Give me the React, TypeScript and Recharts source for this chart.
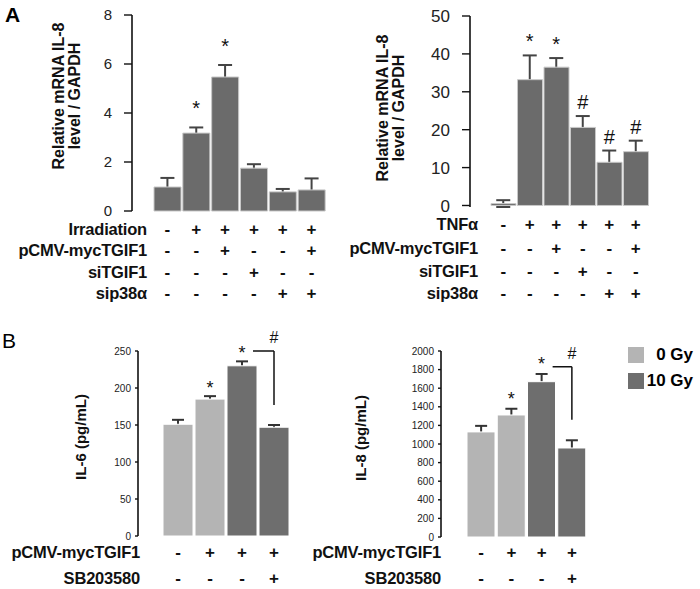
import React from "react";
import {
  ComposedChart,
  Bar,
  Line,
  XAxis,
  YAxis,
  ErrorBar,
  LabelList,
  ReferenceLine,
  ReferenceDot,
  Cell,
} from "recharts";

const FONT = '"Liberation Sans", Arial, Helvetica, sans-serif';

// ---- A (left): IL-8 mRNA after irradiation ----
const irrGroups = ["i1", "i2", "i3", "i4", "i5", "i6"];
const irrMean = [0.98, 3.18, 5.47, 1.75, 0.78, 0.86];
const irrSem = [0.37, 0.23, 0.49, 0.16, 0.12, 0.47];
const irrSig = ["", "*", "*", "", "", ""];
const irrTicks = [0, 2, 4, 6, 8];
const irrRowNames = ["Irradiation", "pCMV-mycTGIF1", "siTGIF1", "sip38α"];
const irrRows = [
  ["-", "+", "+", "+", "+", "+"],
  ["-", "-", "+", "-", "-", "+"],
  ["-", "-", "-", "+", "-", "-"],
  ["-", "-", "-", "-", "+", "+"],
];

// ---- A (right): IL-8 mRNA after TNFα ----
const tnfGroups = ["t1", "t2", "t3", "t4", "t5", "t6"];
const tnfMean = [0.5, 33.2, 36.5, 20.6, 11.4, 14.2];
const tnfSem = [0.9, 6.4, 2.4, 3.0, 3.1, 2.9];
const tnfSig = ["", "*", "*", "#", "#", "#"];
const tnfTicks = [0, 10, 20, 30, 40, 50];
const tnfRowNames = ["TNFα", "pCMV-mycTGIF1", "siTGIF1", "sip38α"];
const tnfRows = [
  ["-", "+", "+", "+", "+", "+"],
  ["-", "-", "+", "-", "-", "+"],
  ["-", "-", "-", "+", "-", "-"],
  ["-", "-", "-", "-", "+", "+"],
];

// ---- B: secreted cytokines ----
const bGroups = ["b1", "b2", "b3", "b4"];
const bDose = ["0 Gy", "0 Gy", "10 Gy", "10 Gy"];
const bRowNames = ["pCMV-mycTGIF1", "SB203580"];
const bRows = [
  ["-", "+", "+", "+"],
  ["-", "-", "-", "+"],
];
const il6Mean = [151, 185, 230, 147];
const il6Sem = [6, 4, 6, 3];
const il6Sig = ["", "*", "*", ""];
const il6Ticks = [0, 50, 100, 150, 200, 250];
const il6Bracket = [250, 177];
const il8Mean = [1130, 1312, 1670, 957];
const il8Sem = [65, 67, 83, 83];
const il8Sig = ["", "*", "*", ""];
const il8Ticks = [0, 200, 400, 600, 800, 1000, 1200, 1400, 1600, 1800, 2000];
const il8Bracket = [1830, 1260];
const legendItems = ["0 Gy", "10 Gy"];

const doseFill: Record<string, string> = { "0 Gy": "#b4b4b4", "10 Gy": "#6e6e6e" };
const barFillA = "#6b6b6b";

const RowTick = (props: any) => {
  const { x = 0, y = 0, index = 0, rows, names, offsets, labelRight } = props;
  return (
    <g fontFamily={FONT} fontWeight={700} fill="#111">
      {rows.map((row: string[], r: number) => (
        <text key={r} x={x} y={y + offsets[r]} dy="0.35em" textAnchor="middle" fontSize={17}>
          {row[index]}
        </text>
      ))}
      {index === 0 &&
        names.map((n: string, r: number) => (
          <text
            key={n}
            x={labelRight}
            y={y + offsets[r]}
            dy="0.35em"
            textAnchor="end"
            fontSize={16.5}
            letterSpacing={-0.2}
          >
            {n}
          </text>
        ))}
    </g>
  );
};

const AxisTitle = ({ lines, cx, cy, gap, size }: any) => (
  <text
    transform={`translate(${cx},${cy}) rotate(-90)`}
    textAnchor="middle"
    dominantBaseline="central"
    fontFamily={FONT}
    fontWeight={700}
    fontSize={size}
    fill="#111"
  >
    {lines.map((l: string, i: number) => (
      <tspan key={i} x={0} dy={i === 0 ? (-(lines.length - 1) * gap) / 2 : gap}>
        {l}
      </tspan>
    ))}
  </text>
);

const Panel = (p: any) => {
  const data = p.groups.map((g: string, i: number) => ({
    name: g,
    value: p.mean[i],
    err: p.sem[i],
    top: p.mean[i] + p.sem[i],
    sig: p.sig[i],
  }));
  const g = p.groups;
  return (
    <div style={{ position: "absolute", left: p.box[0], top: p.box[1] }}>
      <ComposedChart
        width={p.box[2]}
        height={p.box[3]}
        data={data}
        margin={p.margin}
        barCategoryGap={1}
        style={{ fontFamily: FONT }}
      >
        <XAxis
          dataKey="name"
          axisLine={false}
          tickLine={false}
          tickSize={0}
          tickMargin={0}
          interval={0}
          height={p.xAxisHeight}
          padding={{ left: p.padLeft, right: 0 }}
          tick={(t: any) => (
            <RowTick
              {...t}
              rows={p.rows}
              names={p.rowNames}
              offsets={p.rowOffsets}
              labelRight={p.labelRight}
            />
          )}
        />
        <YAxis
          width={p.yAxisWidth}
          domain={[p.ticks[0], p.ticks[p.ticks.length - 1]]}
          ticks={p.ticks}
          interval={0}
          tickSize={p.tickSize}
          tickMargin={p.tickMargin}
          axisLine={{ stroke: "#111", strokeWidth: 1.6 }}
          tickLine={{ stroke: "#111", strokeWidth: 1.4 }}
          tick={{ fontSize: p.tickFont, fill: "#222", fontFamily: FONT }}
          label={{
            content: () => (
              <AxisTitle lines={p.title} cx={p.titlePos[0]} cy={p.titlePos[1]} gap={16} size={p.titleSize} />
            ),
          }}
        />
        {/* error bars sit under the bars so only the upper half shows */}
        <Line
          dataKey="value"
          stroke="none"
          dot={false}
          activeDot={false}
          legendType="none"
          isAnimationActive={false}
          zIndex={200}
        >
          <ErrorBar
            dataKey="err"
            width={p.errWidth}
            stroke={p.errColor}
            strokeWidth={2}
            direction="y"
            zIndex={200}
          />
        </Line>
        <Bar dataKey="value" stroke={p.barStroke} strokeWidth={1} isAnimationActive={false}>
          {data.map((_: any, i: number) => (
            <Cell key={i} fill={p.fills[i]} />
          ))}
        </Bar>
        <Line
          dataKey="top"
          stroke="none"
          dot={false}
          activeDot={false}
          legendType="none"
          isAnimationActive={false}
        >
          <LabelList
            dataKey="sig"
            position="top"
            offset={p.sigLift}
            fontSize={p.sigSize}
            fill="#111"
            fontFamily={FONT}
          />
        </Line>
        {p.bracket && (
          <ReferenceLine
            segment={[
              { x: g[2], y: p.bracket[0] },
              { x: g[3], y: p.bracket[0] },
            ]}
            stroke="#111"
            strokeWidth={1.5}
            strokeDasharray="0 11 400"
          />
        )}
        {p.bracket && (
          <ReferenceLine
            segment={[
              { x: g[3], y: p.bracket[0] },
              { x: g[3], y: p.bracket[1] },
            ]}
            stroke="#111"
            strokeWidth={1.5}
          />
        )}
        {p.bracket && (
          <ReferenceDot
            x={g[3]}
            y={p.bracket[0]}
            r={1}
            fill="none"
            stroke="none"
            label={{ value: "#", position: "top", offset: 7, fontSize: 16, fill: "#111", fontFamily: FONT }}
          />
        )}
      </ComposedChart>
    </div>
  );
};

export default function App() {
  const aFills = irrGroups.map(() => barFillA);
  const bFills = bDose.map((d) => doseFill[d]);
  return (
    <div
      style={{
        position: "absolute",
        left: 0,
        top: 0,
        width: 700,
        height: 589,
        background: "#fff",
        fontFamily: FONT,
        overflow: "hidden",
      }}
    >
      <Panel
        groups={irrGroups}
        mean={irrMean}
        sem={irrSem}
        sig={irrSig}
        ticks={irrTicks}
        rows={irrRows}
        rowNames={irrRowNames}
        fills={aFills}
        box={[0, 0, 340, 305]}
        margin={{ top: 15, right: 14, left: 0, bottom: 0 }}
        yAxisWidth={132}
        xAxisHeight={94}
        padLeft={21}
        rowOffsets={[18, 39, 61, 82]}
        labelRight={147}
        tickFont={15}
        tickSize={8}
        tickMargin={12}
        title={["Relative mRNA IL-8", "level / GAPDH"]}
        titlePos={[66, 96]}
        titleSize={16}
        sigSize={20}
        sigLift={12}
        errWidth={7}
        errColor="#444"
        barStroke="#c8c8c8"
      />
      <Panel
        groups={tnfGroups}
        mean={tnfMean}
        sem={tnfSem}
        sig={tnfSig}
        ticks={tnfTicks}
        rows={tnfRows}
        rowNames={tnfRowNames}
        fills={aFills}
        box={[320, 0, 380, 305]}
        margin={{ top: 16, right: 51, left: 0, bottom: 0 }}
        yAxisWidth={150}
        xAxisHeight={98}
        padLeft={20}
        rowOffsets={[17, 41, 64, 86]}
        labelRight={158}
        tickFont={17}
        tickSize={8}
        tickMargin={12}
        title={["Relative mRNA IL-8", "level / GAPDH"]}
        titlePos={[70, 108]}
        titleSize={16}
        sigSize={20}
        sigLift={7}
        errWidth={7}
        errColor="#444"
        barStroke="#c8c8c8"
      />
      <Panel
        groups={bGroups}
        mean={il6Mean}
        sem={il6Sem}
        sig={il6Sig}
        ticks={il6Ticks}
        rows={bRows}
        rowNames={bRowNames}
        fills={bFills}
        box={[0, 300, 320, 289]}
        margin={{ top: 51, right: 30, left: 0, bottom: 0 }}
        yAxisWidth={138}
        xAxisHeight={53}
        padLeft={24}
        rowOffsets={[16, 42]}
        labelRight={140}
        tickFont={10}
        tickSize={3}
        tickMargin={4}
        title={["IL-6 (pg/mL)"]}
        titlePos={[80, 137]}
        titleSize={15}
        sigSize={18}
        sigLift={2}
        errWidth={6}
        errColor="#333"
        barStroke="#ffffff"
        bracket={il6Bracket}
      />
      <Panel
        groups={bGroups}
        mean={il8Mean}
        sem={il8Sem}
        sig={il8Sig}
        ticks={il8Ticks}
        rows={bRows}
        rowNames={bRowNames}
        fills={bFills}
        box={[300, 300, 400, 289]}
        margin={{ top: 51, right: 113, left: 0, bottom: 0 }}
        yAxisWidth={141}
        xAxisHeight={52}
        padLeft={25}
        rowOffsets={[15, 41]}
        labelRight={141}
        tickFont={10}
        tickSize={3}
        tickMargin={4}
        title={["IL-8 (pg/mL)"]}
        titlePos={[60, 138]}
        titleSize={15}
        sigSize={18}
        sigLift={4}
        errWidth={6}
        errColor="#333"
        barStroke="#ffffff"
        bracket={il8Bracket}
      />
      <div style={{ position: "absolute", left: 5, top: 4, fontSize: 21, fontWeight: 700, lineHeight: 1 }}>A</div>
      <div style={{ position: "absolute", left: 2, top: 330, fontSize: 21, lineHeight: 1 }}>B</div>
      <div style={{ position: "absolute", left: 628, top: 342 }}>
        {legendItems.map((d) => (
          <div key={d} style={{ display: "flex", alignItems: "center", height: 26 }}>
            <span style={{ width: 16, height: 16, background: doseFill[d], display: "inline-block" }} />
            <span style={{ width: 49, textAlign: "right", fontWeight: 700, fontSize: 17 }}>{d}</span>
          </div>
        ))}
      </div>
    </div>
  );
}
